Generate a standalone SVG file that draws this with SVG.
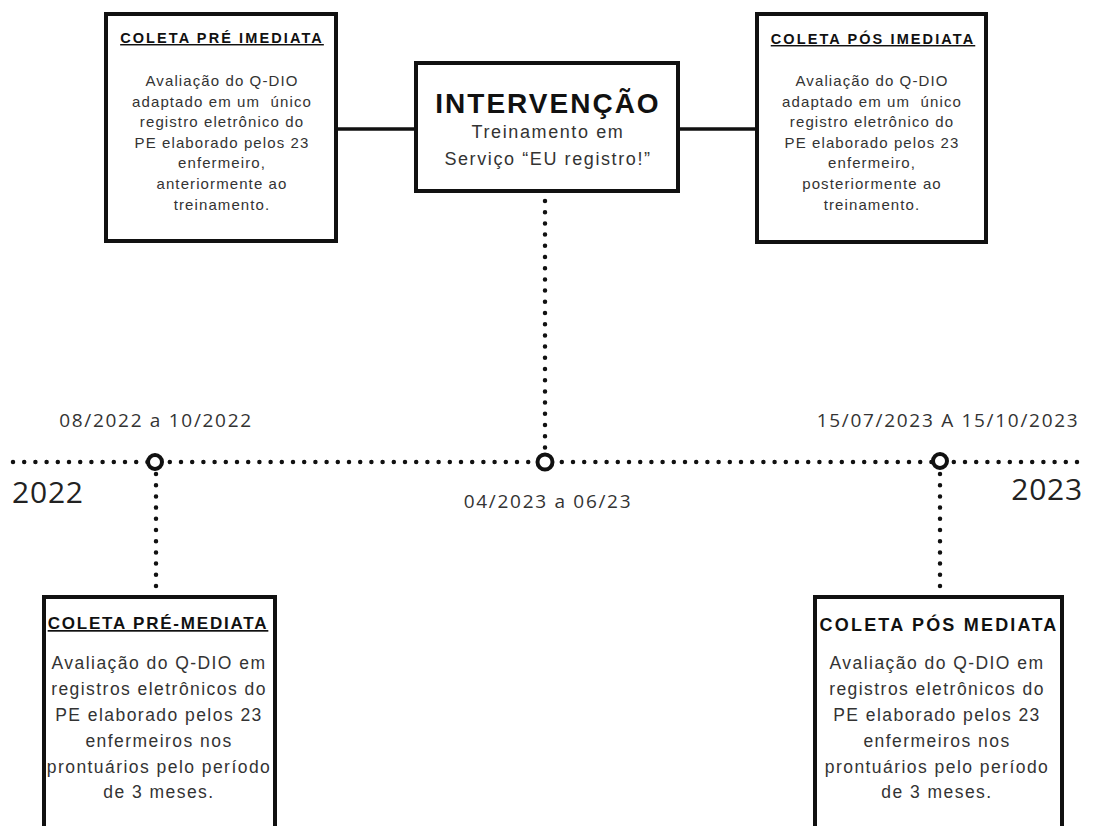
<svg xmlns="http://www.w3.org/2000/svg" width="1093" height="826" viewBox="0 0 1093 826">
<style>
.box{fill:#fff;stroke:#111;stroke-width:4}
.ttl{font-family:"Liberation Sans",Arial,sans-serif;font-weight:bold;fill:#111;text-anchor:middle}
.body{font-family:"Liberation Sans",Arial,sans-serif;fill:#333;text-anchor:middle}
.tb{font-size:15px;letter-spacing:1.1px}
.bb{font-size:17.5px;letter-spacing:1.45px}
.date{font-family:"Open Sans","Noto Sans",sans-serif;font-size:19px;letter-spacing:1.7px;fill:#333;text-anchor:middle}
.year{font-family:"Open Sans","Noto Sans",sans-serif;font-size:30px;letter-spacing:0.8px;fill:#222}
.solid{stroke:#111;stroke-width:3.5;fill:none}
.dots{stroke:#111;stroke-width:4.5;stroke-linecap:round;stroke-dasharray:0 11.2;fill:none}
.pin{fill:#fff;stroke:#111;stroke-width:4}
</style>
<rect width="1093" height="826" fill="#fff"/>
<g id="connectors">
  <line class="solid" x1="336" y1="129" x2="416" y2="129"/>
  <line class="solid" x1="678" y1="129" x2="757" y2="129"/>
  <line class="dots" x1="545" y1="201" x2="545" y2="455"/>
  <line class="dots" x1="13" y1="462" x2="1078" y2="462"/>
  <line class="dots" x1="156" y1="474" x2="156" y2="596"/>
  <line class="dots" x1="940" y1="474" x2="940" y2="596"/>
</g>
<g id="coleta-pre-imediata">
  <rect class="box" x="106" y="14" width="230" height="227"/>
  <text class="ttl" x="222" y="43" font-size="14.5" letter-spacing="2.1" text-decoration="underline">COLETA PRÉ IMEDIATA</text>
  <text class="body tb" x="222" y="86">Avaliação do Q-DIO</text>
  <text class="body tb" x="222" y="106.5" xml:space="preserve">adaptado em um  único</text>
  <text class="body tb" x="222" y="127">registro eletrônico do</text>
  <text class="body tb" x="222" y="147.5">PE elaborado pelos 23</text>
  <text class="body tb" x="222" y="168">enfermeiro,</text>
  <text class="body tb" x="222" y="189">anteriormente ao</text>
  <text class="body tb" x="222" y="210">treinamento.</text>
</g>
<g id="intervencao">
  <rect class="box" x="416" y="63" width="262" height="128"/>
  <text class="ttl" x="548" y="113" font-size="28" letter-spacing="2">INTERVENÇÃO</text>
  <text class="body" x="548" y="138" font-size="18" letter-spacing="1.6">Treinamento em</text>
  <text class="body" x="548" y="165" font-size="18" letter-spacing="1.6">Serviço “EU registro!”</text>
</g>
<g id="coleta-pos-imediata">
  <rect class="box" x="757" y="14" width="229" height="228"/>
  <text class="ttl" x="873" y="44" font-size="14.5" letter-spacing="2.1" text-decoration="underline">COLETA PÓS IMEDIATA</text>
  <text class="body tb" x="872" y="86">Avaliação do Q-DIO</text>
  <text class="body tb" x="872" y="106.5" xml:space="preserve">adaptado em um  único</text>
  <text class="body tb" x="872" y="127">registro eletrônico do</text>
  <text class="body tb" x="872" y="147.5">PE elaborado pelos 23</text>
  <text class="body tb" x="872" y="168">enfermeiro,</text>
  <text class="body tb" x="872" y="189">posteriormente ao</text>
  <text class="body tb" x="872" y="210">treinamento.</text>
</g>
<g id="pin-2022">
  <circle class="pin" cx="155" cy="462" r="7"/>
  <text class="date" x="156" y="427">08/2022 a 10/2022</text>
</g>
<g id="pin-2023-mid">
  <circle class="pin" cx="545" cy="462" r="7.5"/>
  <text class="date" x="548" y="508">04/2023 a 06/23</text>
</g>
<g id="pin-2023">
  <circle class="pin" cx="940" cy="461" r="7"/>
  <text class="date" x="948" y="427">15/07/2023 A 15/10/2023</text>
</g>
<g id="year-labels">
  <text class="year" x="12" y="503">2022</text>
  <text class="year" x="1083" y="500" text-anchor="end">2023</text>
</g>
<g id="coleta-pre-mediata">
  <rect class="box" x="44" y="597" width="231" height="260"/>
  <text class="ttl" x="158" y="629" font-size="17" letter-spacing="1.8" text-decoration="underline">COLETA PRÉ-MEDIATA</text>
  <text class="body bb" x="159" y="669">Avaliação do Q-DIO em</text>
  <text class="body bb" x="159" y="695">registros eletrônicos do</text>
  <text class="body bb" x="159" y="721">PE elaborado pelos 23</text>
  <text class="body bb" x="159" y="747">enfermeiros nos</text>
  <text class="body bb" x="159" y="773">prontuários pelo período</text>
  <text class="body bb" x="159" y="798">de 3 meses.</text>
</g>
<g id="coleta-pos-mediata">
  <rect class="box" x="815" y="597" width="247" height="260"/>
  <text class="ttl" x="939" y="631" font-size="18" letter-spacing="2.2">COLETA PÓS MEDIATA</text>
  <text class="body bb" x="937" y="669">Avaliação do Q-DIO em</text>
  <text class="body bb" x="937" y="695">registros eletrônicos do</text>
  <text class="body bb" x="937" y="721">PE elaborado pelos 23</text>
  <text class="body bb" x="937" y="747">enfermeiros nos</text>
  <text class="body bb" x="937" y="773">prontuários pelo período</text>
  <text class="body bb" x="937" y="798">de 3 meses.</text>
</g>
</svg>
